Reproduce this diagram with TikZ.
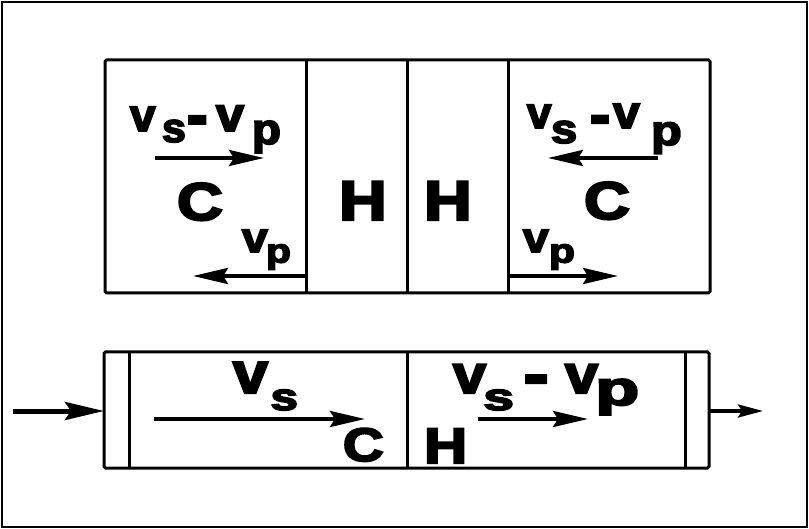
\documentclass[tikz,border=0pt]{standalone}
\usepackage{fontspec}
\setmainfont{Liberation Sans}
\newfontfamily\heavy{Liberation Sans Bold}[FakeBold=4]
\usetikzlibrary{arrows.meta}
\newcommand\glyph[6]{\node[gl] (#1) at (#2,#3) {\fontsize{#4}{#4}\selectfont\scalebox{#5}[1]{#6}};}
\tikzset{
  gl/.style={inner sep=0pt, outer sep=0pt, anchor=base west, font=\heavy},
  boxline/.style={line width=3pt, rounded corners=1.5pt},
  divline/.style={line width=3pt},
  vel/.style={line width=4pt, -{Stealth[length=35pt, width=16pt, inset=5pt]}},
  inarrow/.style={line width=5pt, -{Stealth[length=39pt, width=18pt, inset=6pt]}},
  outarrow/.style={line width=3.5pt, -{Stealth[length=25pt, width=13pt, inset=4pt]}}
}
\begin{document}
\begin{tikzpicture}[x=1pt, y=-1pt]
\useasboundingbox (0,0) rectangle (809,529);
\draw[line width=2pt] (2,2) rectangle (807,527);
% top box
\coordinate (tl) at (105,60);
\coordinate (br) at (710,293);
\draw[boxline] (tl) rectangle (br);
\draw[divline] (306,60) -- (306,293);
\draw[divline] (407,60) -- (407,293);
\draw[divline] (508,60) -- (508,293);
% bottom box
\coordinate (btl) at (104,352);
\coordinate (bbr) at (709,468);
\draw[boxline] (btl) rectangle (bbr);
\draw[divline] (129,352) -- (129,468);
\draw[divline] (407,352) -- (407,468);
\draw[divline] (685,352) -- (685,468);
% top-left labels
\glyph{a1}{130}{131}{46}{1}{v}
\glyph{a2}{162}{142}{41}{1.05}{s}
\glyph{a3}{187}{136}{62}{1}{-}
\glyph{a4}{216}{131}{48}{1.05}{v}
\glyph{a5}{252}{144}{43}{1.1}{p}
\coordinate (a6s) at (155,158); \coordinate (a6e) at (264,158);
\draw[vel] (a6s) -- (a6e);
\glyph{c1}{177}{220}{53}{1.2}{C}
\glyph{b1}{242}{252}{42}{1.1}{v}
\glyph{b2}{266}{262.6}{34}{1.2}{p}
\coordinate (b3s) at (305,276); \coordinate (b3e) at (193,276);
\draw[vel] (b3s) -- (b3e);
% H H
\glyph{h1}{339}{220}{56}{1.18}{H}
\glyph{h2}{424}{220}{56}{1.18}{H}
% top-right labels
\glyph{d1}{527}{128}{44}{1}{v}
\glyph{d2}{551}{143}{41}{1.15}{s}
\glyph{d3}{590}{135}{60}{1}{-}
\glyph{d4}{613}{128}{46}{1.05}{v}
\glyph{d5}{651}{145}{42}{1.2}{p}
\coordinate (d6s) at (658,158); \coordinate (d6e) at (548,158);
\draw[vel] (d6s) -- (d6e);
\glyph{c2}{584}{219}{53}{1.2}{C}
\glyph{e1}{523}{252}{42}{1.1}{v}
\glyph{e2}{549}{262.6}{34}{1.25}{p}
\coordinate (e3s) at (508,276); \coordinate (e3e) at (618,276);
\draw[vel] (e3s) -- (e3e);
% bottom left
\glyph{f1}{233}{393}{58}{1.08}{v}
\glyph{f2}{270.5}{410}{38}{1.3}{s}
\coordinate (f3s) at (154,419); \coordinate (f3e) at (365,419);
\draw[vel] (f3s) -- (f3e);
\glyph{c3}{343}{461}{47}{1.2}{C}
\glyph{h3}{424}{463}{50}{1.2}{H}
% bottom right
\glyph{g1}{453}{393}{54}{1.1}{v}
\glyph{g2}{483.3}{410}{38}{1.45}{s}
\glyph{g3}{523.7}{395.2}{62}{1.2}{-}
\glyph{g4}{565}{393}{54}{1.1}{v}
\glyph{g5}{595.2}{405}{48}{1.5}{p}
\coordinate (g6s) at (478,419); \coordinate (g6e) at (588,419);
\draw[vel] (g6s) -- (g6e);
% in / out
\coordinate (ins) at (13,411); \coordinate (ine) at (104,411);
\draw[inarrow] (ins) -- (ine);
\coordinate (outs) at (709,411); \coordinate (oute) at (763,411);
\draw[outarrow] (outs) -- (oute);
\end{tikzpicture}
\end{document}
